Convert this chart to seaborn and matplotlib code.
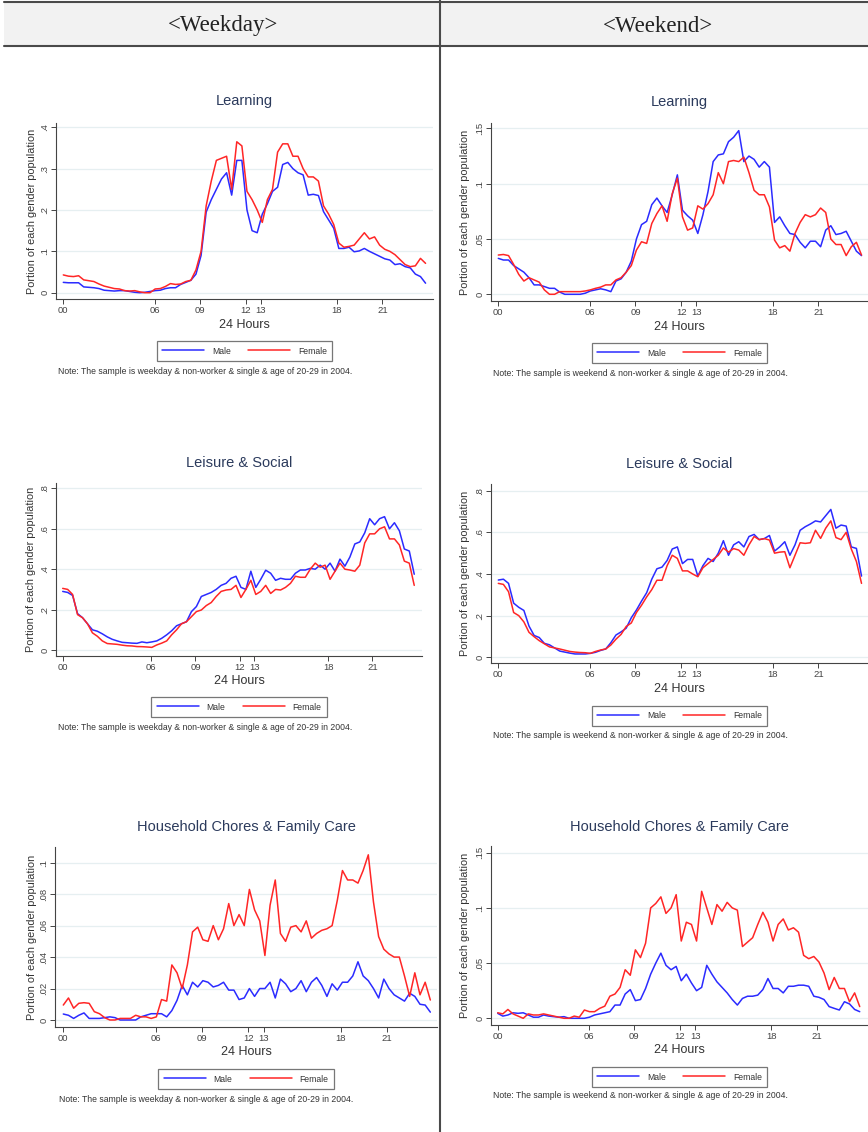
import numpy as np
import pandas as pd
import matplotlib
matplotlib.use("Agg")
import matplotlib.pyplot as plt
from matplotlib.patches import Rectangle
from matplotlib.lines import Line2D
import seaborn as sns

# ---------------- data (20-minute resolution, 72 points per series) ----------------
HOURS = np.linspace(0, 23 + 50 / 60, 72)
XTICKS = [0, 6, 9, 12, 13, 18, 21]
XTICKLABELS = ["00", "06", "09", "12", "13", "18", "21"]

WD_LEARN_M = [.025, .024, .024, .024, .014, .013, .012, .010, .006,
              .005, .004, .005, .005, .003, .001, .000, .001, .003,
              .005, .006, .010, .012, .012, .020, .025, .030, .045,
              .090, .195, .225, .250, .275, .290, .236, .320, .320,
              .200, .150, .145, .190, .215, .245, .255, .310, .315,
              .300, .290, .285, .236, .238, .235, .196, .176, .156,
              .107, .107, .110, .099, .101, .107, .100, .094, .088,
              .082, .079, .068, .070, .063, .060, .045, .039, .023]
WD_LEARN_F = [.043, .040, .039, .041, .031, .029, .027, .021, .016,
              .013, .010, .009, .005, .004, .005, .002, .000, .000,
              .009, .010, .015, .022, .020, .021, .027, .030, .055,
              .100, .210, .270, .320, .325, .330, .250, .365, .355,
              .245, .225, .200, .170, .225, .250, .340, .360, .360,
              .330, .330, .300, .280, .280, .270, .210, .190, .165,
              .120, .110, .112, .115, .130, .145, .130, .135, .115,
              .105, .100, .092, .080, .068, .063, .065, .083, .071]

WE_LEARN_M = [.0325, .031, .031, .026, .023, .020, .015, .0085, .0085,
              .007, .0054, .0054, .002, 0, 0, 0, 0, .001,
              .003, .004, .005, .004, .0024, .012, .014, .020, .030,
              .050, .063, .066, .081, .087, .080, .074, .090, .108,
              .076, .071, .067, .055, .072, .093, .120, .126, .127,
              .138, .142, .148, .120, .125, .122, .115, .120, .115,
              .065, .070, .062, .055, .054, .047, .042, .048, .048,
              .043, .058, .062, .054, .055, .057, .048, .039, .035]
WE_LEARN_F = [.0355, .036, .035, .027, .018, .012, .015, .013, .011,
              .004, 0, 0, .0024, .0024, .0024, .0024, .0024, .003,
              .004, .0054, .0065, .0085, .0085, .013, .015, .020, .026,
              .040, .0475, .046, .064, .073, .080, .066, .091, .105,
              .070, .058, .060, .080, .077, .082, .090, .110, .100,
              .120, .121, .120, .124, .110, .094, .090, .090, .079,
              .049, .042, .044, .039, .055, .065, .072, .070, .072,
              .078, .074, .050, .045, .045, .035, .043, .047, .0355]

WD_LEIS_M = [.29, .285, .27, .18, .16, .13, .10, .093, .08,
             .065, .053, .045, .038, .036, .034, .033, .04, .036,
             .04, .045, .058, .075, .095, .12, .13, .14, .19,
             .215, .265, .275, .285, .30, .32, .33, .355, .365,
             .31, .30, .39, .31, .35, .395, .38, .345, .355,
             .35, .35, .38, .396, .396, .404, .40, .42, .40,
             .43, .39, .45, .415, .46, .525, .535, .58, .65,
             .62, .65, .66, .60, .63, .59, .50, .49, .375]
WD_LEIS_F = [.305, .30, .275, .175, .16, .13, .085, .068, .045,
             .032, .03, .028, .024, .021, .02, .017, .0165, .015,
             .013, .025, .034, .045, .075, .10, .13, .14, .165,
             .19, .198, .22, .235, .265, .29, .297, .30, .32,
             .26, .30, .345, .275, .29, .32, .28, .30, .297,
             .31, .33, .365, .36, .36, .40, .43, .41, .42,
             .35, .39, .43, .40, .396, .39, .42, .53, .575,
             .575, .60, .61, .55, .55, .52, .44, .43, .32]

WE_LEIS_M = [.371, .375, .355, .26, .24, .225, .15, .105, .095,
             .067, .06, .045, .03, .025, .02, .016, .016, .016,
             .019, .024, .033, .04, .07, .107, .122, .14, .19,
             .227, .27, .31, .375, .425, .433, .465, .52, .53,
             .45, .47, .47, .39, .44, .475, .46, .50, .56,
             .49, .54, .555, .53, .58, .59, .565, .57, .585,
             .51, .53, .555, .49, .54, .61, .627, .64, .655,
             .65, .68, .71, .62, .635, .63, .53, .523, .39]
WE_LEIS_F = [.355, .35, .315, .215, .20, .17, .12, .099, .08,
             .065, .05, .045, .04, .034, .028, .025, .023, .022,
             .019, .028, .035, .04, .059, .087, .11, .148, .165,
             .215, .25, .29, .325, .37, .37, .44, .49, .475,
             .415, .415, .40, .387, .43, .45, .47, .49, .525,
             .505, .522, .515, .49, .54, .58, .565, .57, .563,
             .50, .505, .507, .43, .49, .55, .547, .55, .61,
             .571, .62, .655, .575, .565, .60, .52, .46, .355]

WD_HH_M = [.0038, .003, .001, .003, .0045, .001, .001, .001, .0015,
           .002, .0015, 0, 0, 0, 0, .002, .003, .004,
           .004, .004, .002, .006, .0125, .022, .016, .024, .021,
           .025, .024, .021, .022, .024, .019, .019, .013, .014,
           .020, .015, .020, .020, .024, .014, .026, .023, .018,
           .020, .025, .018, .024, .027, .022, .015, .023, .019,
           .024, .024, .028, .037, .028, .025, .020, .014, .026,
           .020, .016, .014, .012, .017, .015, .010, .0095, .005]
WD_HH_F = [.0095, .014, .0075, .0106, .011, .0106, .0053, .004, .0015,
           0, 0, .001, .001, .001, .003, .002, .002, .001,
           .002, .013, .012, .035, .030, .020, .035, .056, .059,
           .051, .050, .060, .051, .058, .074, .060, .067, .060,
           .083, .070, .063, .041, .073, .089, .055, .050, .059,
           .060, .056, .063, .052, .055, .057, .058, .060, .076,
           .095, .089, .089, .087, .095, .105, .075, .053, .045,
           .042, .040, .040, .028, .015, .030, .016, .024, .0127]

WE_HH_M = [.0045, .002, .003, .005, .0045, .005, .003, .001, .001,
           .003, .002, .0015, .001, .0015, 0, 0, 0, 0,
           .001, .003, .004, .005, .006, .012, .012, .022, .026,
           .016, .017, .027, .040, .050, .059, .048, .044, .047,
           .034, .040, .032, .025, .028, .048, .040, .033, .028,
           .023, .017, .012, .018, .020, .020, .021, .026, .036,
           .027, .027, .023, .029, .029, .030, .030, .029, .020,
           .019, .017, .0106, .009, .0075, .015, .013, .008, .006]
WE_HH_F = [.005, .004, .008, .004, .002, 0, .004, .003, .003,
           .004, .003, .002, .001, 0, 0, .002, .001, .0075,
           .006, .006, .009, .011, .020, .022, .028, .044, .039,
           .062, .055, .068, .100, .104, .110, .095, .100, .112,
           .070, .087, .085, .070, .115, .100, .085, .103, .097,
           .105, .100, .098, .065, .069, .073, .085, .096, .087,
           .070, .085, .090, .080, .082, .078, .057, .054, .056,
           .051, .041, .026, .037, .027, .027, .015, .023, .0106]

TITLES = ["Learning", "Leisure & Social", "Household Chores & Family Care"]
HEADERS = ["<Weekday>", "<Weekend>"]
GENDERS = ["Male", "Female"]
NOTE_TMPL = "Note: The sample is {} & non-worker & single & age of 20-29 in 2004."
YLABEL = "Portion of each gender population"
XLABEL = "24 Hours"

# ---------------- layout (pixels) ----------------
W, H = 868, 1132
fig = plt.figure(figsize=(W / 100, H / 100), dpi=100)
sns.set_theme(style="white")
plt.rcParams["font.family"] = ["Liberation Sans", "DejaVu Sans"]

def fx(x):
    return x / W

def fy(y):
    return 1 - y / H

COLORS = {"Male": "#2b2bff", "Female": "#ff2626"}

panels = [
    dict(title=TITLES[0], m=WD_LEARN_M, f=WD_LEARN_F, day="weekday",
         yt=[0, .1, .2, .3, .4], ytl=["0", ".1", ".2", ".3", ".4"],
         box=(56, 123, 433, 299), x0=63.3, pph=15.2, y0=292.7, ppu=413.5,
         ty=101, xly=325, legy=351, noty=372, notx=58, ylx=32),
    dict(title=TITLES[1], m=WD_LEIS_M, f=WD_LEIS_F, day="weekday",
         yt=[0, .2, .4, .6, .8], ytl=["0", ".2", ".4", ".6", ".8"],
         box=(56, 483, 422, 656), x0=62.7, pph=14.75, y0=650, ppu=202,
         ty=463, xly=681, legy=707, noty=727, notx=58, ylx=31),
    dict(title=TITLES[2], m=WD_HH_M, f=WD_HH_F, day="weekday",
         yt=[0, .02, .04, .06, .08, .1], ytl=["0", ".02", ".04", ".06", ".08", ".1"],
         box=(55, 847, 437, 1027), x0=63.3, pph=15.4, y0=1020, ppu=1573.3,
         ty=827, xly=1052, legy=1079, noty=1100, notx=59, ylx=32),
    dict(title=TITLES[0], m=WE_LEARN_M, f=WE_LEARN_F, day="weekend",
         yt=[0, .05, .1, .15], ytl=["0", ".05", ".1", ".15"],
         box=(491, 123, 868, 301), x0=498.3, pph=15.24, y0=294.3, ppu=1106,
         ty=102, xly=327, legy=353, noty=374, notx=493, ylx=465),
    dict(title=TITLES[1], m=WE_LEIS_M, f=WE_LEIS_F, day="weekend",
         yt=[0, .2, .4, .6, .8], ytl=["0", ".2", ".4", ".6", ".8"],
         box=(491, 484, 868, 663), x0=498.3, pph=15.24, y0=657.3, ppu=208.25,
         ty=464, xly=689, legy=716, noty=736, notx=493, ylx=465),
    dict(title=TITLES[2], m=WE_HH_M, f=WE_HH_F, day="weekend",
         yt=[0, .05, .1, .15], ytl=["0", ".05", ".1", ".15"],
         box=(491, 846, 868, 1025), x0=497.7, pph=15.19, y0=1018.3, ppu=1104,
         ty=827, xly=1050, legy=1077, noty=1096, notx=493, ylx=465),
]

# ---------------- header table ----------------
fig.add_artist(Rectangle((fx(4), fy(46)), fx(868 - 4), (46 - 2) / H,
                         transform=fig.transFigure, facecolor="#f2f2f2",
                         edgecolor="none", zorder=0))
for yy in (2, 46):
    fig.add_artist(Line2D([fx(4), fx(868)], [fy(yy), fy(yy)], transform=fig.transFigure,
                          color="#4a4a4a", lw=1.5))
fig.add_artist(Line2D([fx(440), fx(440)], [fy(0), fy(1132)], transform=fig.transFigure,
                      color="#4a4a4a", lw=1.5))
fig.text(fx(223), fy(26), HEADERS[0], ha="center", va="center", fontsize=16.5,
         family=["Liberation Serif", "DejaVu Serif"], color="#222222")
fig.text(fx(658), fy(26), HEADERS[1], ha="center", va="center", fontsize=16.5,
         family=["Liberation Serif", "DejaVu Serif"], color="#222222")

# ---------------- panels ----------------
for p in panels:
    l, t, r, b = p["box"]
    ax = fig.add_axes([fx(l), fy(b), (r - l) / W, (b - t) / H])
    df = pd.DataFrame({
        "hour": np.concatenate([HOURS, HOURS]),
        "value": np.concatenate([p["m"], p["f"]]),
        "gender": ["Male"] * len(HOURS) + ["Female"] * len(HOURS),
    })
    sns.lineplot(data=df, x="hour", y="value", hue="gender", hue_order=GENDERS,
                 palette=COLORS, lw=1.1, legend=False, ax=ax, errorbar=None)
    ax.set_xlim((l - p["x0"]) / p["pph"], (r - p["x0"]) / p["pph"])
    ax.set_ylim((p["y0"] - b) / p["ppu"], (p["y0"] - t) / p["ppu"])
    ax.set_xticks(XTICKS)
    ax.set_xticklabels(XTICKLABELS)
    ax.set_yticks(p["yt"])
    ax.set_yticklabels(p["ytl"], rotation=90, va="center")
    ax.set_xlabel("")
    ax.set_ylabel("")
    ax.set_facecolor("white")
    ax.yaxis.grid(True, color="#e6eff1", lw=0.9)
    ax.xaxis.grid(False)
    ax.set_axisbelow(True)
    for s in ("top", "right"):
        ax.spines[s].set_visible(False)
    for s in ("left", "bottom"):
        ax.spines[s].set_color("#444444")
        ax.spines[s].set_linewidth(0.8)
    ax.tick_params(axis="both", which="both", direction="out", length=3.5, width=0.7,
                   color="#444444", labelsize=6.8, labelcolor="#444444",
                   left=True, bottom=True, pad=1.2)

    cx = (l + r) / 2
    fig.text(fx(cx), fy(p["ty"]), p["title"], ha="center", va="center",
             fontsize=10.5, color="#2b3a5c")
    fig.text(fx(cx), fy(p["xly"]), XLABEL, ha="center", va="center",
             fontsize=9, color="#333333")
    fig.text(fx(p["ylx"]), fy((t + b) / 2), YLABEL, ha="center", va="center",
             rotation=90, fontsize=7.8, color="#333333")
    fig.text(fx(p["notx"]), fy(p["noty"]), NOTE_TMPL.format(p["day"]),
             ha="left", va="center", fontsize=6.2, color="#333333")

    handles = ax.get_lines()[:2]
    leg = fig.legend(handles, GENDERS, loc="center",
                     bbox_to_anchor=(fx(cx), fy(p["legy"])), ncol=2,
                     frameon=True, fancybox=False, fontsize=6.2,
                     handlelength=4.9, columnspacing=2.0, handletextpad=0.9,
                     borderpad=0.6, edgecolor="#555555", labelcolor="#333333")
    leg.get_frame().set_linewidth(0.9)
    leg.get_frame().set_facecolor("white")

fig.savefig("out.png", dpi=100, facecolor="white")
